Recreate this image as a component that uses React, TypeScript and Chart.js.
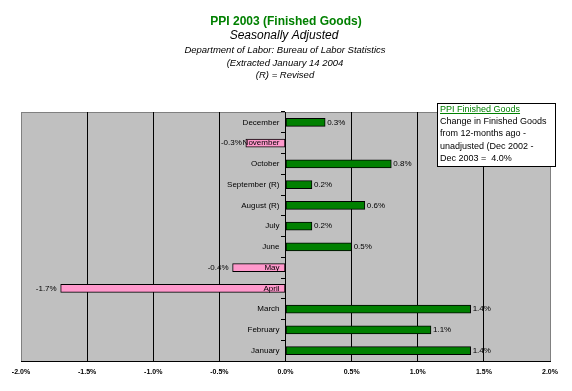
import React, { useEffect, useRef } from 'react';
import { Chart, registerables } from 'chart.js';

Chart.register(...registerables);

const months = ['January', 'February', 'March', 'April', 'May', 'June', 'July', 'August (R)', 'September (R)', 'October', 'November', 'December'];
const changes = [1.4, 1.1, 1.4, -1.7, -0.4, 0.5, 0.2, 0.6, 0.2, 0.8, -0.3, 0.3];
const axisMin = -2;
const axisMax = 2;
const axisStep = 0.5;

const title = 'PPI 2003 (Finished Goods)';
const subtitle = 'Seasonally Adjusted';
const sourceLines = ['Department of Labor: Bureau of Labor Statistics', '(Extracted January 14 2004', '(R) = Revised'];
const noteTitle = 'PPI Finished Goods';
const noteLines = ['Change in Finished Goods', 'from 12-months ago -', 'unadjusted (Dec 2002 -', 'Dec 2003 =  4.0%'];

const FONT = '"Liberation Sans", Arial, sans-serif';
const GREEN = '#008000';
const PINK = '#FF99CC';

const fmt = (v: number) => v.toFixed(1) + '%';

const decorPlugin = {
  id: 'decor',
  beforeDraw(chart: any) {
    const { ctx, chartArea: a } = chart;
    ctx.save();
    ctx.fillStyle = '#FFFFFF';
    ctx.fillRect(0, 0, chart.width, chart.height);
    ctx.fillStyle = '#C0C0C0';
    ctx.fillRect(a.left, a.top, a.right - a.left, a.bottom - a.top);
    ctx.strokeStyle = '#808080';
    ctx.lineWidth = 1;
    ctx.strokeRect(Math.round(a.left) + 0.5, Math.round(a.top) + 0.5, Math.round(a.right - a.left), Math.round(a.bottom - a.top));
    ctx.restore();
  },
  afterDatasetsDraw(chart: any) {
    const { ctx } = chart;
    const xs = chart.scales.x;
    const ys = chart.scales.y;
    const zero = xs.getPixelForValue(0);
    ctx.save();
    ctx.textBaseline = 'middle';
    ctx.fillStyle = '#000';
    ctx.font = `8px ${FONT}`;
    months.forEach((m, i) => {
      const y = ys.getPixelForValue(i);
      ctx.textAlign = 'right';
      ctx.fillText(m, zero - 6, y);
      const v = changes[i];
      const end = xs.getPixelForValue(v);
      if (v >= 0) {
        ctx.textAlign = 'left';
        ctx.fillText(fmt(v), end + 2, y);
      } else {
        ctx.textAlign = 'right';
        ctx.fillText(fmt(v), end - 4, y);
      }
    });
    ctx.restore();
  },
  afterDraw(chart: any) {
    const { ctx } = chart;
    ctx.save();
    ctx.textAlign = 'center';
    ctx.textBaseline = 'middle';
    ctx.fillStyle = GREEN;
    ctx.font = `bold 12px ${FONT}`;
    ctx.fillText(title, 286, 21.5);
    ctx.fillStyle = '#000';
    ctx.font = `italic 12px ${FONT}`;
    ctx.fillText(subtitle, 284, 36);
    ctx.font = `italic 9.5px ${FONT}`;
    const ys = [50.5, 63.5, 75];
    sourceLines.forEach((t, i) => ctx.fillText(t, 285, ys[i]));

    // note box
    ctx.fillStyle = '#FFFFFF';
    ctx.fillRect(437, 103, 119, 64);
    ctx.strokeStyle = '#000';
    ctx.lineWidth = 1;
    ctx.strokeRect(437.5, 103.5, 118, 63);
    ctx.textAlign = 'left';
    ctx.textBaseline = 'alphabetic';
    ctx.font = `9px ${FONT}`;
    ctx.fillStyle = GREEN;
    ctx.fillText(noteTitle, 440, 111.5);
    const w = ctx.measureText(noteTitle).width;
    ctx.fillRect(440, 113, w, 1);
    ctx.fillStyle = '#000';
    noteLines.forEach((t, i) => ctx.fillText(t, 440, 111.5 + 12.4 * (i + 1)));
    ctx.restore();
  },
};

export default function App() {
  const ref = useRef<HTMLCanvasElement | null>(null);
  useEffect(() => {
    if (!ref.current) return;
    const chart = new Chart(ref.current, {
      type: 'bar',
      data: {
        labels: months,
        datasets: [
          {
            data: changes,
            backgroundColor: changes.map((v) => (v >= 0 ? GREEN : PINK)),
            borderColor: '#000',
            borderWidth: 1,
            borderSkipped: false,
            barThickness: 8,
          },
        ],
      },
      options: {
        indexAxis: 'y',
        animation: false,
        responsive: false,
        events: [],
        layout: { padding: { left: 21, right: 22, top: 112, bottom: 0 } },
        plugins: { legend: { display: false }, tooltip: { enabled: false }, title: { display: false } },
        scales: {
          x: {
            type: 'linear',
            position: 'bottom',
            min: axisMin,
            max: axisMax,
            afterFit: (s: any) => {
              s.height = 30;
            },
            ticks: {
              stepSize: axisStep,
              padding: 7,
              color: '#000',
              font: { family: FONT, size: 7, weight: 'bold' },
              callback: (v: any) => fmt(Number(v)),
              maxRotation: 0,
            },
            grid: {
              drawTicks: false,
              color: (c: any) => (c.tick && Math.abs(c.tick.value) === 2 ? '#808080' : '#000'),
              lineWidth: 1,
            },
            border: { display: true, color: '#000', width: 1 },
          },
          y: {
            type: 'category',
            position: { x: 0 } as any,
            reverse: true,
            offset: true,
            ticks: { display: false },
            grid: {
              offset: true,
              drawOnChartArea: false,
              drawTicks: true,
              tickLength: 4,
              color: '#000',
            },
            border: { display: true, color: '#000', width: 1 },
          },
        },
      },
      plugins: [decorPlugin],
    } as any);
    return () => chart.destroy();
  }, []);
  return (
    <div style={{ position: 'fixed', left: 0, top: 0, width: 572, height: 391, background: '#fff' }}>
      <canvas ref={ref} width={572} height={391} style={{ display: 'block' }} />
    </div>
  );
}
